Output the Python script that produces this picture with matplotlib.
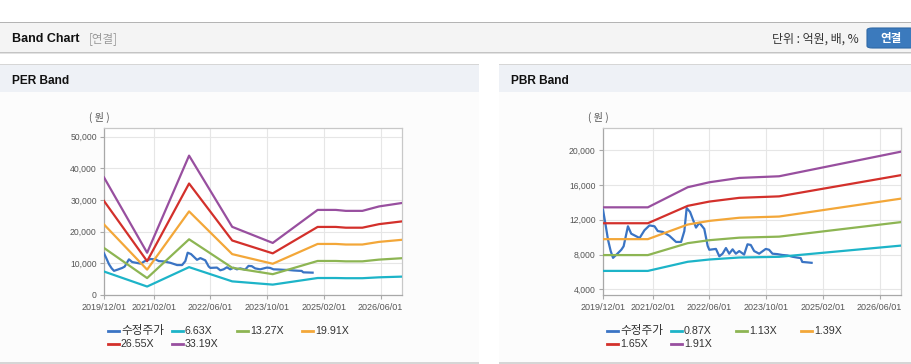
import matplotlib
matplotlib.use('Agg')
import matplotlib.pyplot as plt
import pandas as pd
from matplotlib.patches import Rectangle, FancyBboxPatch
from matplotlib.lines import Line2D

# ---------------- data ----------------
price_label = '수정주가'
price_dates = ['2019-12-01', '2019-12-21', '2020-01-13', '2020-02-05', '2020-02-25', '2020-03-30',
               '2020-05-06', '2020-05-26', '2020-07-02', '2020-07-30', '2020-09-11', '2020-10-10',
               '2020-11-21', '2021-01-03', '2021-02-15', '2021-03-15', '2021-04-27', '2021-06-23',
               '2021-08-19', '2021-10-01', '2021-10-29', '2021-11-18', '2021-12-17', '2022-02-06',
               '2022-03-07', '2022-04-18', '2022-05-17', '2022-05-31', '2022-07-27', '2022-08-25',
               '2022-09-22', '2022-10-21', '2022-11-18', '2022-12-17', '2023-01-14', '2023-02-12',
               '2023-03-26', '2023-04-24', '2023-05-22', '2023-06-20', '2023-08-02', '2023-09-28',
               '2023-10-26', '2023-11-24', '2024-01-05', '2024-02-17', '2024-03-31', '2024-05-13',
               '2024-06-24', '2024-07-23', '2024-08-06', '2024-09-18', '2024-10-25']
price = [13150, 11600, 9700, 8400, 7620, 8050,
         8550, 8950, 11250, 10400, 10100, 9900,
         10800, 11350, 11250, 10700, 10600, 10150,
         9450, 9450, 10700, 13350, 12900, 11100,
         11650, 10950, 9000, 8550, 8650, 7800,
         8100, 8750, 8100, 8600, 8100, 8400,
         8000, 9180, 9100, 8400, 8100, 8650,
         8550, 8100, 8050, 7950, 7900, 7750,
         7650, 7600, 7150, 7100, 7050]

# PER band
per_dates = ['2019-12-01', '2020-12-05', '2021-11-30', '2022-12-05', '2023-11-18', '2024-12-07',
             '2025-05-12', '2025-08-06', '2025-12-26', '2026-05-18', '2026-12-01']
per_labels = ['6.63X', '13.27X', '19.91X', '26.55X', '33.19X']
per_663 = [7410, 2670, 8790, 4300, 3280, 5360, 5360, 5300, 5300, 5580, 5800]
per_1327 = [14840, 5340, 17580, 8600, 6570, 10740, 10740, 10620, 10620, 11170, 11610]
per_1991 = [22260, 8000, 26380, 12900, 9860, 16110, 16110, 15930, 15930, 16760, 17420]
per_2655 = [29680, 10670, 35180, 17200, 13140, 21480, 21480, 21240, 21240, 22360, 23230]
per_3319 = [37110, 13340, 43980, 21510, 16430, 26850, 26850, 26550, 26550, 27950, 29040]
per_yticks = [0, 10000, 20000, 30000, 40000, 50000]

# PBR band
pbr_dates = ['2019-12-01', '2020-12-20', '2021-11-27', '2022-05-31', '2023-02-12', '2024-01-20',
             '2026-12-01']
pbr_labels = ['0.87X', '1.13X', '1.39X', '1.65X', '1.91X']
pbr_087 = [6120, 6120, 7170, 7430, 7660, 7740, 9030]
pbr_113 = [7940, 7940, 9310, 9650, 9940, 10060, 11730]
pbr_139 = [9770, 9770, 11450, 11870, 12230, 12370, 14430]
pbr_165 = [11600, 11600, 13600, 14090, 14520, 14690, 17130]
pbr_191 = [13430, 13430, 15740, 16310, 16810, 17000, 19830]
pbr_yticks = [4000, 8000, 12000, 16000, 20000]

xtick_labels = ['2019/12/01', '2021/02/01', '2022/06/01', '2023/10/01', '2025/02/01', '2026/06/01']
x_start, x_end = '2019-12-01', '2026-12-01'

colors = ['#3a74c4', '#1db4c8', '#8db553', '#f3a739', '#d3302b', '#984f9f']

# ---------------- layout ----------------
W, H, DPI = 912, 364, 100
KR = ['Noto Sans CJK KR', 'DejaVu Sans']
LAT = ['Liberation Sans', 'Noto Sans CJK KR']

fig = plt.figure(figsize=(W / DPI, H / DPI), dpi=DPI)
fig.patch.set_facecolor('white')


def fx(x):
    return x / W


def fy(y):
    return 1 - y / H


def rect(x0, y0, x1, y1, color, z=-5):
    fig.add_artist(Rectangle((fx(x0), fy(y1)), (x1 - x0) / W, (y1 - y0) / H,
                             transform=fig.transFigure, facecolor=color,
                             edgecolor='none', zorder=z))


# top header
rect(0, 22, W, 23, '#b4b4b4')
rect(0, 23, W, 52, '#f4f4f4')
rect(0, 52, W, 53, '#c4c4c4')
rect(0, 53, W, 54, '#e2e2e2')
# panels
for (px0, px1) in [(0, 479), (499, W)]:
    rect(px0, 64, px1, 65, '#d6d6d6')
    rect(px0, 65, px1, 92, '#eef1f6')
    rect(px0, 92, px1, 362, '#fcfcfc')
    rect(px0, 362, px1, 364, '#d6d6d6')

fig.text(fx(12), fy(39), 'Band Chart', family=LAT, weight='bold', fontsize=9,
         color='#111111', va='center', ha='left')
fig.text(fx(89), fy(39), '[연결]', family=KR, fontsize=8.3, color='#9a9a9a',
         va='center', ha='left')
fig.text(fx(859), fy(39.5), '단위 : 억원, 배, %', family=KR, fontsize=8.6,
         color='#333333', va='center', ha='right')
fig.add_artist(FancyBboxPatch((fx(867), fy(48)), (48) / W, 20 / H,
                              boxstyle='round,pad=0,rounding_size=0.006',
                              transform=fig.transFigure, facecolor='#3b7abd',
                              edgecolor='#2f69a6', linewidth=0.8, zorder=-4))
fig.text(fx(891), fy(38.5), '연결', family=KR, weight='bold', fontsize=8.3,
         color='white', va='center', ha='center')

fig.text(fx(12), fy(80.5), 'PER Band', family=LAT, weight='bold', fontsize=8.6,
         color='#111111', va='center', ha='left')
fig.text(fx(511), fy(80.5), 'PBR Band', family=LAT, weight='bold', fontsize=8.6,
         color='#111111', va='center', ha='left')


def make_axes(left, series_dates, series_list, ylim, yticks):
    ax = fig.add_axes([fx(left), fy(295), 298 / W, 167 / H])
    ax.set_facecolor('white')
    pd_price = pd.to_datetime(price_dates)
    ax.plot(pd_price, price, color=colors[0], lw=1.6, zorder=3)
    d = pd.to_datetime(series_dates)
    for i, s in enumerate(series_list):
        ax.plot(d, s, color=colors[i + 1], lw=1.6, zorder=3)
    ax.set_xlim(pd.Timestamp(x_start), pd.Timestamp(x_end))
    ax.set_ylim(*ylim)
    xt = pd.to_datetime([t.replace('/', '-') for t in xtick_labels])
    ax.set_xticks(xt, labels=xtick_labels, family=LAT, fontsize=6.5, color='#555555')
    ax.set_yticks(yticks, labels=[f'{v:,}' for v in yticks], family=LAT,
                  fontsize=6.2, color='#555555')
    ax.grid(True, color='#e6e6e6', lw=0.8, zorder=0)
    ax.set_axisbelow(True)
    ax.tick_params(axis='both', length=3, width=0.8, color='#aaaaaa')
    ax.tick_params(axis='y', pad=2.2)
    ax.tick_params(axis='x', pad=3)
    for sp in ['left', 'bottom']:
        ax.spines[sp].set_color('#a8a8a8')
        ax.spines[sp].set_linewidth(0.9)
    for sp in ['top', 'right']:
        ax.spines[sp].set_color('#c8c8c8')
        ax.spines[sp].set_linewidth(0.9)
    return ax


ax1 = make_axes(104, per_dates, [per_663, per_1327, per_1991, per_2655, per_3319],
                (0, 52700), per_yticks)
ax2 = make_axes(603, pbr_dates, [pbr_087, pbr_113, pbr_139, pbr_165, pbr_191],
                (3350, 22550), pbr_yticks)

fig.text(fx(99), fy(117), '( 원 )', family=KR, fontsize=7.3, color='#555555',
         ha='center', va='center')
fig.text(fx(598), fy(117), '( 원 )', family=KR, fontsize=7.3, color='#555555',
         ha='center', va='center')


def legend(x0, labels):
    cols = [0, 64, 129, 194]
    rows = [330.5, 344]
    allabels = [price_label] + labels
    for i, lab in enumerate(allabels):
        r, c = divmod(i, 4)
        xs = x0 + cols[c]
        y = rows[r]
        fig.add_artist(Line2D([fx(xs), fx(xs + 11)], [fy(y), fy(y)],
                              transform=fig.transFigure, color=colors[i], lw=2.0))
        if i == 0:
            fig.text(fx(xs + 13), fy(y), lab, family=KR, fontsize=8.4, color='#333333',
                     ha='left', va='center')
        else:
            fig.text(fx(xs + 13), fy(y), lab, family=LAT, fontsize=7.7, color='#333333',
                     ha='left', va='center')


legend(108, per_labels)
legend(607, pbr_labels)

fig.savefig('out.png', dpi=DPI)
